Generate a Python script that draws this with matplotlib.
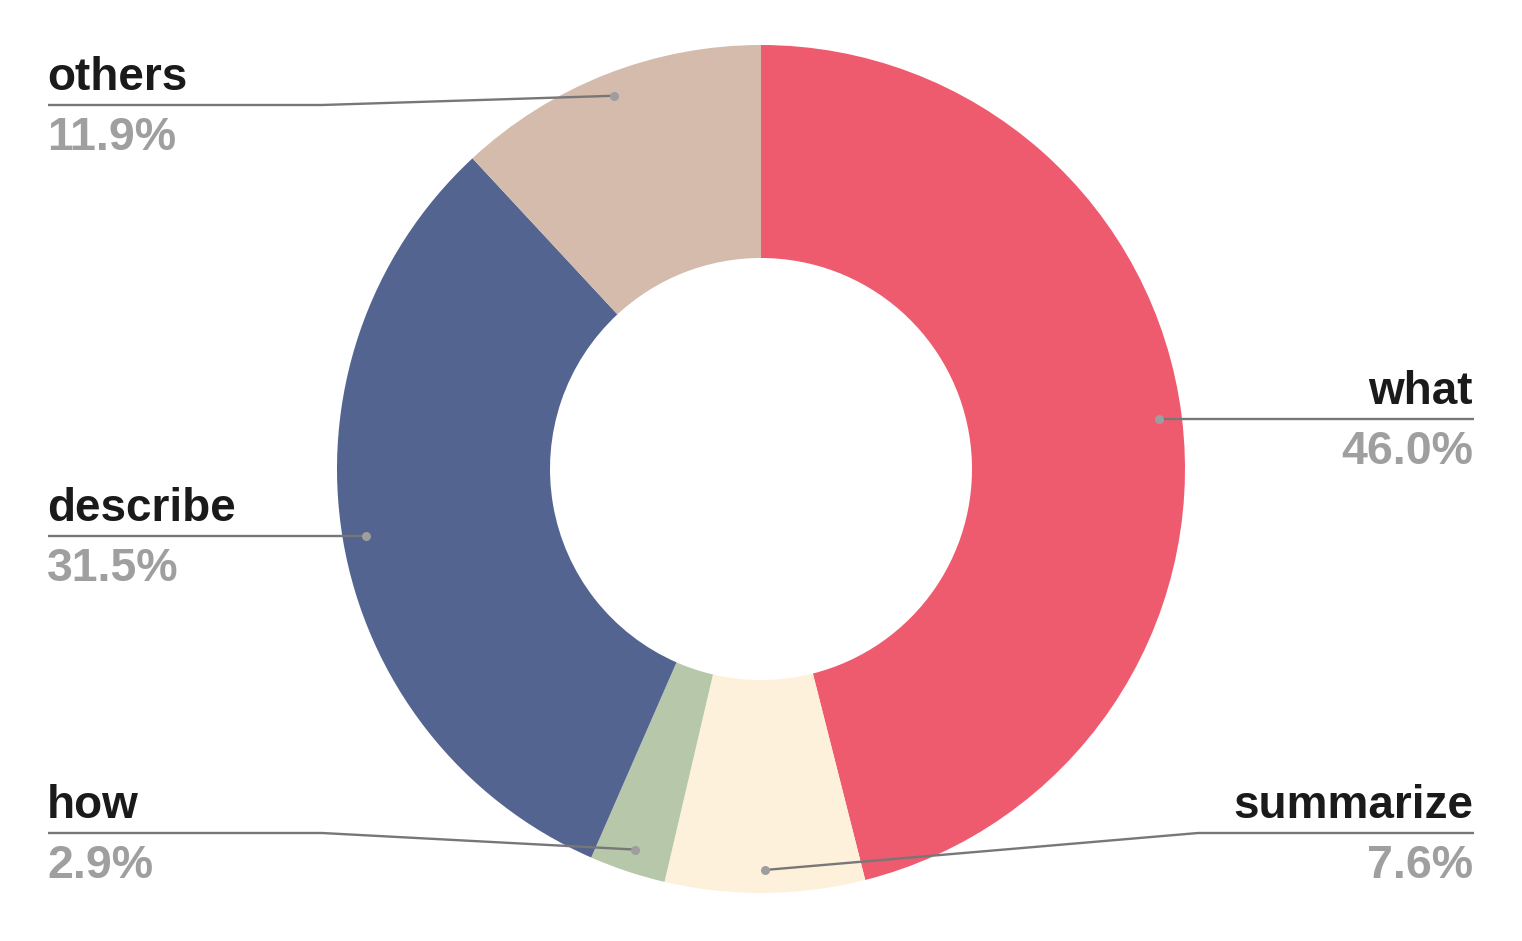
import numpy as np
import matplotlib.pyplot as plt

# Slice data, clockwise from 12 o'clock
labels = ["what", "summarize", "how", "describe", "others"]
shares = [46.0, 7.6, 2.9, 31.5, 11.9]
colors = ["#EF5B6E", "#FEF1DC", "#B7C7A9", "#536491", "#D4BBAB"]

# Label side and where the label line sits (image y, None = level with dot)
sides = ["right", "right", "left", "left", "left"]
line_rows = [None, 833, 833, None, 105]

W, H = 1522, 941
cx, cy = 761, H - 469
R = 424

plt.rcParams["font.family"] = ["Liberation Sans", "DejaVu Sans"]

fig = plt.figure(figsize=(W / 100, H / 100), dpi=100)
ax = fig.add_axes([0, 0, 1, 1])

ax.pie(
    shares,
    colors=colors,
    startangle=90,
    counterclock=False,
    radius=R,
    center=(cx, cy),
    wedgeprops=dict(width=213, linewidth=0),
)

ax.set_xlim(0, W)
ax.set_ylim(0, H)
ax.set_aspect("equal")
ax.axis("off")

total = sum(shares)
cum = 0
for name, s, side, row in zip(labels, shares, sides, line_rows):
    mid = np.deg2rad(90 - 360 * (cum + s / 2) / total)
    cum += s
    dx = cx + 401 * np.cos(mid)
    dy = cy + 401 * np.sin(mid)

    ly = dy if row is None else H - row
    if side == "left":
        xs = [dx, 322, 48]
        tx, ha = 47, "left"
    else:
        xs = [dx, 1198, 1474]
        tx, ha = 1473, "right"
    ax.plot(xs, [dy, ly, ly], color="#777777", lw=1.7, solid_capstyle="butt", zorder=3)
    ax.plot(dx, dy, "o", ms=6.5, color="#9E9E9E", mec="none", zorder=4)

    ax.text(tx, ly + 15, name, ha=ha, va="baseline", fontsize=33,
            fontweight="bold", color="#1A1A1A")
    ax.text(tx, ly - 45, f"{s:.1f}%", ha=ha, va="baseline", fontsize=33.5,
            fontweight="bold", color="#9F9F9F")

fig.savefig("out.png", dpi=100, facecolor="white")
